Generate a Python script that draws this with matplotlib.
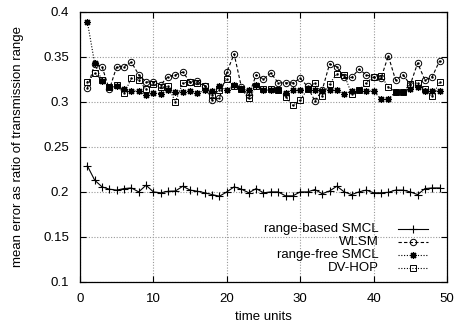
import numpy as np
import matplotlib
matplotlib.use('Agg')
import matplotlib.pyplot as plt
from matplotlib.ticker import MultipleLocator, FormatStrFormatter

plt.rcParams['font.family'] = ['Liberation Sans', 'DejaVu Sans']
plt.rcParams['font.size'] = 9.5

# --- Data ---
time_units = np.arange(1, 50)

range_based_smcl = [
    0.229, 0.213, 0.2056, 0.203, 0.202, 0.2037, 0.2044, 0.200, 0.2074, 0.200,
    0.199, 0.2007, 0.201, 0.2063, 0.202, 0.2007, 0.199, 0.197, 0.1952, 0.200,
    0.2056, 0.203, 0.199, 0.2037, 0.199, 0.200, 0.200, 0.1956, 0.1956, 0.200,
    0.200, 0.2026, 0.198, 0.201, 0.2063, 0.200, 0.197, 0.200, 0.202, 0.199,
    0.199, 0.1995, 0.202, 0.202, 0.200, 0.197, 0.2037, 0.2044, 0.2044]

wlsm = [
    0.315, 0.342, 0.339, 0.3137, 0.339, 0.339, 0.344, 0.330, 0.322, 0.322,
    0.319, 0.328, 0.330, 0.333, 0.322, 0.323, 0.318, 0.302, 0.304, 0.333,
    0.353, 0.316, 0.307, 0.330, 0.325, 0.332, 0.321, 0.321, 0.321, 0.326,
    0.317, 0.3007, 0.313, 0.342, 0.339, 0.327, 0.327, 0.336, 0.330, 0.327,
    0.326, 0.351, 0.324, 0.330, 0.319, 0.343, 0.324, 0.328, 0.3456]

range_free_smcl = [
    0.389, 0.3426, 0.3233, 0.316, 0.317, 0.3137, 0.312, 0.312, 0.3071, 0.310,
    0.309, 0.313, 0.311, 0.311, 0.312, 0.3095, 0.313, 0.312, 0.317, 0.313,
    0.3186, 0.314, 0.313, 0.3186, 0.313, 0.313, 0.313, 0.310, 0.313, 0.313,
    0.3144, 0.3126, 0.312, 0.313, 0.313, 0.3086, 0.312, 0.313, 0.312, 0.312,
    0.303, 0.303, 0.311, 0.311, 0.3137, 0.3167, 0.312, 0.312, 0.312]

dv_hop = [
    0.322, 0.3315, 0.324, 0.3167, 0.3186, 0.3093, 0.326, 0.324, 0.3137, 0.320,
    0.316, 0.317, 0.300, 0.321, 0.322, 0.321, 0.318, 0.307, 0.313, 0.325,
    0.317, 0.314, 0.304, 0.317, 0.314, 0.314, 0.313, 0.3056, 0.296, 0.302,
    0.314, 0.321, 0.3063, 0.320, 0.331, 0.330, 0.309, 0.313, 0.321, 0.328,
    0.3286, 0.3167, 0.311, 0.311, 0.3197, 0.321, 0.3137, 0.306, 0.322]

labels = ['range-based SMCL', 'WLSM', 'range-free SMCL', 'DV-HOP']

# --- Figure ---
fig = plt.figure(figsize=(4.6, 3.29), dpi=100)
ax = fig.add_axes([80 / 460, 47 / 329, 367 / 460, 270.3 / 329])

lw = 0.8
styles = [
    dict(ls='-', marker='+', ms=5.5, mew=0.8),
    dict(ls=(0, (3, 2)), marker='o', ms=4.6, mew=0.7, mfc='none'),
    dict(ls=(0, (1, 1.5)), marker=(8, 2, 0), ms=5, mew=0.9),
    dict(ls=(0, (1, 1.5)), marker='s', ms=5, mew=0.7, mfc='none'),
]
series = [range_based_smcl, wlsm, range_free_smcl, dv_hop]

for vals, st in zip(series, styles):
    ax.plot(time_units, vals, color='black', lw=lw, **st)
# centre dots of the open circle / square markers
for vals in (wlsm, dv_hop):
    ax.plot(time_units, vals, ls='none', marker='.', ms=1.5, color='black')

ax.set_xlim(0, 50)
ax.set_ylim(0.1, 0.4)
ax.xaxis.set_major_locator(MultipleLocator(10))
ax.yaxis.set_major_locator(MultipleLocator(0.05))
ax.yaxis.set_major_formatter(FormatStrFormatter('%g'))
ax.tick_params(direction='in', length=4, width=0.8, top=True, right=True,
               labelsize=9.5, pad=8)
ax.grid(True, color='#999999', ls=(0, (1, 1.5)), lw=0.8)
for sp in ax.spines.values():
    sp.set_linewidth(0.9)

ax.set_xlabel('time units', labelpad=4)
ax.set_ylabel('mean error as ratio of transmission range', labelpad=14)

# gnuplot-style key: right-aligned text with sample to the right
key_x_text = 0.815
key_x0, key_x1 = 0.866, 0.948
key_y = [0.195, 0.147, 0.099, 0.051]
for lab, st, ky in zip(labels, styles, key_y):
    ax.text(key_x_text, ky, lab, transform=ax.transAxes, ha='right',
            va='center', fontsize=9.5)
    ax.plot([key_x0, key_x1], [ky, ky], transform=ax.transAxes,
            color='black', lw=lw, ls=st['ls'])
    mst = {k: v for k, v in st.items() if k != 'ls'}
    ax.plot([(key_x0 + key_x1) / 2], [ky], transform=ax.transAxes,
            color='black', ls='none', **mst)

fig.savefig('out.png', dpi=100)
